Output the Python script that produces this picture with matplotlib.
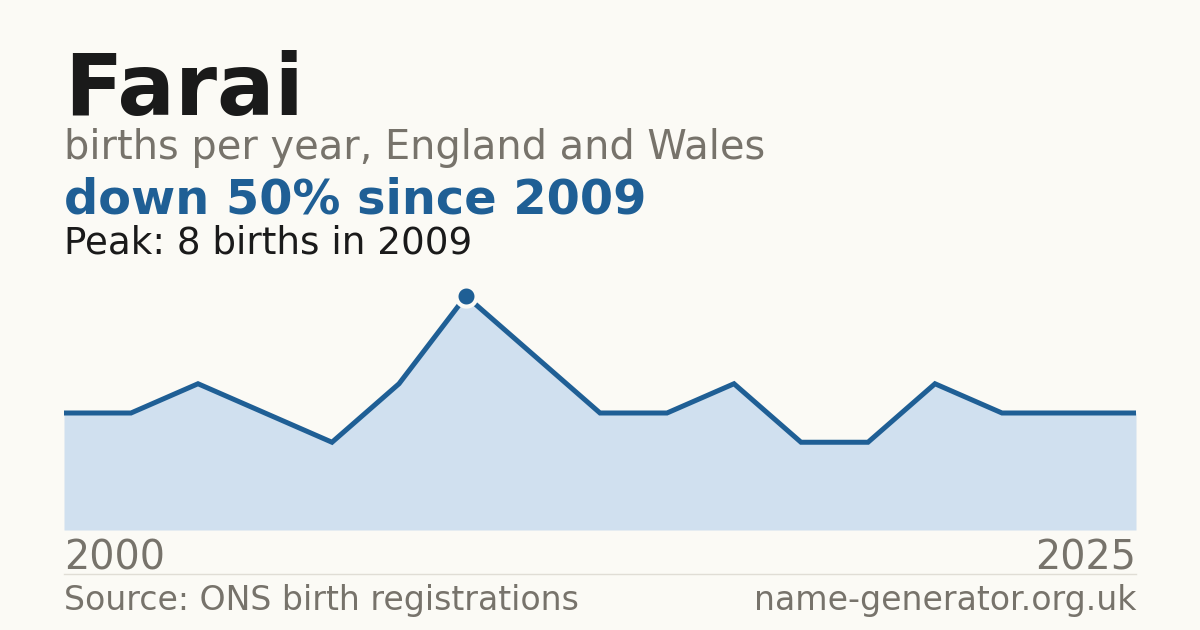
#!/usr/bin/env python3

import matplotlib
matplotlib.use("Agg")
import matplotlib.pyplot as plt
import numpy as np

years = [2000, 2002, 2003, 2005, 2006, 2008, 2009, 2011, 2012,
         2014, 2015, 2017, 2018, 2020, 2021, 2023, 2025]
births = [4, 4, 5, 4, 3, 5, 8, 6, 4, 4, 5, 3, 3, 5, 4, 4, 4]

name = "Farai"
subtitle = "births per year, England and Wales"
headline = "down 50% since 2009"
peak_note = "Peak: 8 births in 2009"
source = "Source: ONS birth registrations"
site = "name-generator.org.uk"

BG = "#fbfaf5"
BLUE = "#1f5f95"
FILL = "#d0e0ef"
GRAY = "#77736b"
INK = "#1a1a1a"

W, H = 1200, 630
fig = plt.figure(figsize=(W / 100, H / 100), dpi=100, facecolor=BG)

# plot area in pixel coordinates
left, right, bottom, top = 64, 1136, 530, 296
ax = fig.add_axes([left / W, (H - bottom) / H, (right - left) / W, (bottom - top) / H])
ax.set_facecolor("none")

x = np.arange(len(births))
y = np.array(births)
ax.fill_between(x, 0, y, color=FILL, linewidth=0, clip_on=False)
ax.plot(x, y, color=BLUE, linewidth=3.6, solid_joinstyle="miter",
        solid_capstyle="butt", clip_on=False)

ipk = int(np.argmax(y))
ax.plot(x[ipk], y[ipk], marker="o", markersize=14.5, markerfacecolor=BLUE,
        markeredgecolor=BG, markeredgewidth=3, clip_on=False, zorder=5)

ax.set_xlim(0, len(births) - 1)
ax.set_ylim(0, max(births))
ax.axis("off")

# titles
fig.text(left / W, 1 - 115 / H, name, fontsize=61.5, fontweight="bold", color=INK, va="baseline")
fig.text(left / W, 1 - 159 / H, subtitle, fontsize=28.7, color=GRAY, va="baseline")
fig.text(left / W, 1 - 214 / H, headline, fontsize=34.5, fontweight="bold", color=BLUE, va="baseline")
fig.text(left / W, 1 - 253 / H, peak_note, fontsize=26.8, color=INK, va="baseline")

# year labels
fig.text(left / W, 1 - 570 / H, str(years[0]), fontsize=28.5, color=GRAY, va="baseline")
fig.text(right / W, 1 - 570 / H, str(years[-1]), fontsize=28.5, color=GRAY, va="baseline", ha="right")

# separator and footer
fig.add_artist(plt.Line2D([left / W, right / W], [1 - 574 / H, 1 - 574 / H],
                          color="#e0ddd5", linewidth=1))
fig.text(left / W, 1 - 610 / H, source, fontsize=23.9, color=GRAY, va="baseline")
fig.text(right / W, 1 - 610 / H, site, fontsize=23.9, color=GRAY, va="baseline", ha="right")

fig.savefig("out.png", dpi=100, facecolor=BG)
